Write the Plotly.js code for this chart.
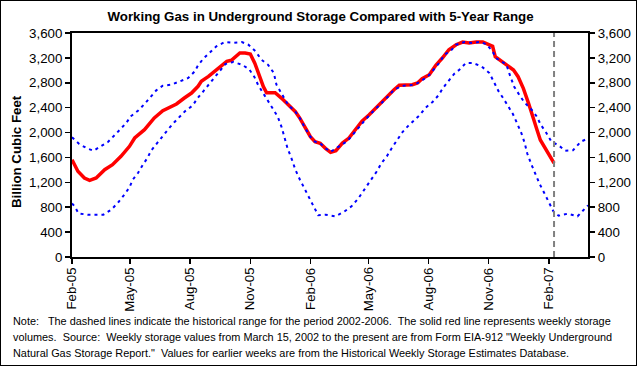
<!DOCTYPE html>
<html>
<head>
<meta charset="utf-8">
<script src="https://cdn.plot.ly/plotly-3.0.1.min.js"></script>
<style>
  html, body { margin: 0; padding: 0; background: #fff; }
  #wrap { position: relative; width: 638px; height: 366px; }
  #plot { position: absolute; left: 0; top: 0; width: 638px; height: 366px; }
  #frame { position: absolute; left: 0; top: 0; width: 637px; height: 366px; box-sizing: border-box; border: 1px solid #000; pointer-events: none; }
</style>
</head>
<body>
<div id="wrap"><div id="plot"></div><div id="frame"></div></div>
<script>
// Weekly working gas in storage (Bcf)
const actualDates = ['2005-02-01','2005-02-10','2005-02-20','2005-02-28','2005-03-10','2005-03-23','2005-04-04','2005-04-17','2005-04-30','2005-05-08','2005-05-23','2005-06-07','2005-06-20','2005-06-28','2005-07-11','2005-07-23','2005-08-03','2005-08-13','2005-08-18','2005-08-29','2005-09-08','2005-09-16','2005-09-26','2005-10-03','2005-10-16','2005-10-24','2005-11-01','2005-11-08','2005-11-13','2005-11-21','2005-11-26','2005-12-09','2005-12-19','2005-12-29','2006-01-09','2006-01-16','2006-01-24','2006-02-01','2006-02-08','2006-02-16','2006-02-24','2006-03-04','2006-03-12','2006-03-22','2006-04-01','2006-04-11','2006-04-21','2006-05-02','2006-05-12','2006-05-22','2006-06-01','2006-06-09','2006-06-17','2006-06-27','2006-07-07','2006-07-15','2006-07-22','2006-08-02','2006-08-12','2006-08-22','2006-09-01','2006-09-12','2006-09-22','2006-10-02','2006-10-13','2006-10-23','2006-11-02','2006-11-07','2006-11-11','2006-11-21','2006-12-02','2006-12-09','2006-12-16','2006-12-24','2007-01-01','2007-01-09','2007-01-14','2007-01-19','2007-01-27','2007-02-04','2007-02-09'];
const actualValues = [1564,1377,1270,1232,1270,1403,1483,1618,1779,1912,2046,2234,2351,2395,2459,2555,2635,2743,2823,2904,2984,3064,3145,3161,3278,3278,3262,3112,2952,2737,2640,2640,2550,2443,2335,2229,2068,1933,1853,1827,1747,1682,1708,1832,1912,2046,2181,2287,2395,2502,2608,2689,2759,2759,2769,2796,2865,2930,3081,3198,3331,3412,3455,3439,3455,3455,3412,3386,3219,3139,3058,3005,2898,2711,2470,2229,2041,1880,1747,1612,1510];

// 5-year range, maximum (dashed upper line)
const maxDates = ['2005-02-01','2005-02-12','2005-02-25','2005-03-06','2005-03-17','2005-03-28','2005-04-09','2005-04-17','2005-04-25','2005-05-02','2005-05-13','2005-05-23','2005-05-31','2005-06-10','2005-06-20','2005-07-03','2005-07-16','2005-07-29','2005-08-08','2005-08-13','2005-08-21','2005-08-31','2005-09-10','2005-09-23','2005-10-06','2005-10-19','2005-10-29','2005-11-09','2005-11-18','2005-11-28','2005-12-07','2005-12-11','2005-12-18','2005-12-29','2006-01-09','2006-01-16','2006-01-24','2006-02-01','2006-02-08','2006-02-16','2006-02-24','2006-03-04','2006-03-17','2006-03-29','2006-04-09','2006-04-16','2006-04-24','2006-05-04','2006-05-19','2006-06-01','2006-06-09','2006-06-22','2006-07-10','2006-07-18','2006-07-31','2006-08-10','2006-08-18','2006-08-25','2006-09-04','2006-09-12','2006-09-25','2006-10-07','2006-10-18','2006-10-28','2006-11-07','2006-11-12','2006-11-20','2006-11-28','2006-12-04','2006-12-10','2006-12-18','2006-12-26','2007-01-04','2007-01-13','2007-01-20','2007-01-28','2007-02-05','2007-02-16','2007-02-26','2007-03-10','2007-03-22','2007-04-02'];
const maxValues = [1924,1816,1741,1708,1779,1848,1977,2073,2153,2261,2351,2459,2555,2679,2753,2769,2823,2877,2984,3081,3187,3294,3386,3455,3444,3455,3412,3305,3171,3091,2957,2769,2635,2443,2335,2229,2068,1933,1853,1827,1747,1690,1779,1859,1993,2073,2181,2298,2448,2590,2689,2750,2769,2812,2904,3037,3129,3251,3315,3412,3455,3439,3455,3423,3305,3198,3145,3095,2904,2737,2603,2480,2389,2266,2121,1998,1853,1795,1708,1715,1853,1905];

// 5-year range, minimum (dashed lower line)
const minDates = ['2005-02-01','2005-02-05','2005-02-11','2005-02-25','2005-03-09','2005-03-21','2005-04-02','2005-04-12','2005-04-22','2005-04-30','2005-05-05','2005-05-13','2005-05-20','2005-05-28','2005-06-02','2005-06-11','2005-06-20','2005-06-29','2005-07-08','2005-07-17','2005-07-24','2005-08-05','2005-08-12','2005-08-21','2005-08-29','2005-09-07','2005-09-16','2005-09-24','2005-10-06','2005-10-19','2005-10-30','2005-11-07','2005-11-13','2005-11-21','2005-11-29','2005-12-06','2005-12-13','2005-12-19','2005-12-24','2005-12-28','2006-01-03','2006-01-09','2006-01-16','2006-01-24','2006-01-30','2006-02-06','2006-02-13','2006-02-24','2006-03-11','2006-03-24','2006-04-05','2006-04-15','2006-04-21','2006-04-29','2006-05-06','2006-05-13','2006-05-21','2006-05-29','2006-06-05','2006-06-14','2006-06-22','2006-06-30','2006-07-08','2006-07-18','2006-07-27','2006-08-07','2006-08-16','2006-08-23','2006-08-31','2006-09-05','2006-09-09','2006-09-17','2006-09-27','2006-10-08','2006-10-21','2006-11-02','2006-11-09','2006-11-16','2006-11-24','2006-12-02','2006-12-08','2006-12-14','2006-12-21','2006-12-26','2006-12-30','2007-01-05','2007-01-11','2007-01-18','2007-01-25','2007-02-01','2007-02-08','2007-02-16','2007-03-02','2007-03-17','2007-03-25','2007-04-02'];
const minValues = [860,815,700,680,680,680,760,868,1001,1120,1242,1350,1473,1602,1708,1832,1940,2062,2169,2261,2342,2438,2550,2663,2769,2888,2994,3102,3134,3091,3021,2898,2764,2630,2496,2378,2255,2084,1907,1747,1586,1403,1242,1082,937,799,670,680,654,723,815,937,1029,1136,1242,1366,1511,1618,1741,1885,2009,2100,2181,2277,2395,2491,2598,2716,2823,2880,2941,3010,3118,3118,3064,2957,2823,2665,2540,2410,2298,2159,1990,1835,1663,1495,1334,1173,1029,868,734,664,696,654,744,830];

const currentWeek = '2007-02-09';
const xRange = ['2005-02-01','2007-04-02'];
const xTickDates = ['2005-02-01','2005-05-01','2005-08-01','2005-11-01','2006-02-01','2006-05-01','2006-08-01','2006-11-01','2007-02-01'];
const xTickLabels = ['Feb-05','May-05','Aug-05','Nov-05','Feb-06','May-06','Aug-06','Nov-06','Feb-07'];
const yTickVals = [0,400,800,1200,1600,2000,2400,2800,3200,3600];
const yTickLabels = ['0','400','800','1,200','1,600','2,000','2,400','2,800','3,200','3,600'];
const noteLines = [
  'Note:   The dashed lines indicate the historical range for the period 2002-2006.  The solid red line represents weekly storage',
  'volumes.  Source:  Weekly storage values from March 15, 2002 to the present are from Form EIA-912 "Weekly Underground',
  'Natural Gas Storage Report."  Values for earlier weeks are from the Historical Weekly Storage Estimates Database.'
];

const FONT = 'Liberation Sans, Arial, Helvetica, sans-serif';
const FS = 13.3;
const dotted = {color: '#0000FF', width: 2, dash: '3px,4px'};

// plot area geometry (px)
const L = 72, R = 50, T = 33, B = 109, W = 638, H = 366;
const PW = W - L - R, PH = H - T - B;
const px2paperX = px => (px - L) / PW;
const px2paperY = py => (H - B - py) / PH;

const ctx = document.createElement('canvas').getContext('2d');
ctx.font = FS + 'px "Liberation Sans", Arial, sans-serif';
const textW = s => ctx.measureText(s).width;

const traces = [
  {x: actualDates, y: actualValues, type: 'scatter', mode: 'lines', line: {color: '#FF0000', width: 3.5}, hoverinfo: 'skip', showlegend: false},
  {x: maxDates, y: maxValues, type: 'scatter', mode: 'lines', line: dotted, hoverinfo: 'skip', showlegend: false},
  {x: minDates, y: minValues, type: 'scatter', mode: 'lines', line: dotted, hoverinfo: 'skip', showlegend: false},
  {x: [xRange[0]], y: [null], yaxis: 'y2', type: 'scatter', mode: 'lines', hoverinfo: 'skip', showlegend: false}
];

const yCommon = {
  range: [0, 3600], tickmode: 'array', tickvals: yTickVals, ticktext: yTickLabels,
  showgrid: false, zeroline: false, showline: true, linecolor: '#000', linewidth: 2,
  ticks: 'outside', ticklen: 5, tickwidth: 1.5, tickcolor: '#000',
  tickfont: {family: FONT, size: FS, color: '#000'}, fixedrange: true
};

const annotations = [];
xTickDates.forEach((d, i) => {
  const w = textW(xTickLabels[i]);
  annotations.push({xref: 'x', yref: 'paper', x: d, y: px2paperY(267.5 + w / 2), xanchor: 'center', yanchor: 'middle',
    textangle: -90, showarrow: false, text: xTickLabels[i], borderpad: 0,
    font: {family: FONT, size: FS, color: '#000'}});
});
annotations.push({xref: 'paper', yref: 'paper', x: px2paperX(16), y: px2paperY(152), xanchor: 'center', yanchor: 'middle',
  textangle: -90, showarrow: false, text: 'Billion Cubic Feet', borderpad: 0,
  font: {family: FONT, size: FS, color: '#000', weight: 'bold'}});
noteLines.forEach((t, i) => {
  annotations.push({xref: 'paper', yref: 'paper', x: px2paperX(12), y: px2paperY(321 + 16 * i), xanchor: 'left', yanchor: 'middle',
    align: 'left', showarrow: false, text: t, borderpad: 0, font: {family: FONT, size: 10.9, color: '#000'}});
});

const layout = {
  width: W, height: H,
  margin: {l: L, r: R, t: T, b: B},
  paper_bgcolor: '#fff', plot_bgcolor: '#fff',
  showlegend: false,
  title: {text: 'Working Gas in Underground Storage Compared with 5-Year Range',
          font: {family: FONT, size: FS, color: '#000', weight: 'bold'},
          x: 320.5 / W, xanchor: 'center', y: 1 - 16 / H, yanchor: 'middle'},
  xaxis: {
    type: 'date', range: xRange, tickmode: 'array', tickvals: xTickDates, showticklabels: false,
    showgrid: false, zeroline: false, showline: true, mirror: true,
    linecolor: '#000', linewidth: 2, ticks: 'outside', ticklen: 5, tickwidth: 1.5, tickcolor: '#000', fixedrange: true
  },
  yaxis: Object.assign({}, yCommon),
  yaxis2: Object.assign({}, yCommon, {overlaying: 'y', side: 'right'}),
  shapes: [
    {type: 'line', xref: 'x', yref: 'paper', x0: currentWeek, x1: currentWeek, y0: 0, y1: 1,
     line: {color: '#808080', width: 2, dash: '6px,4px'}}
  ],
  annotations: annotations
};

Plotly.newPlot('plot', traces, layout, {staticPlot: true, displayModeBar: false});
</script>
</body>
</html>
